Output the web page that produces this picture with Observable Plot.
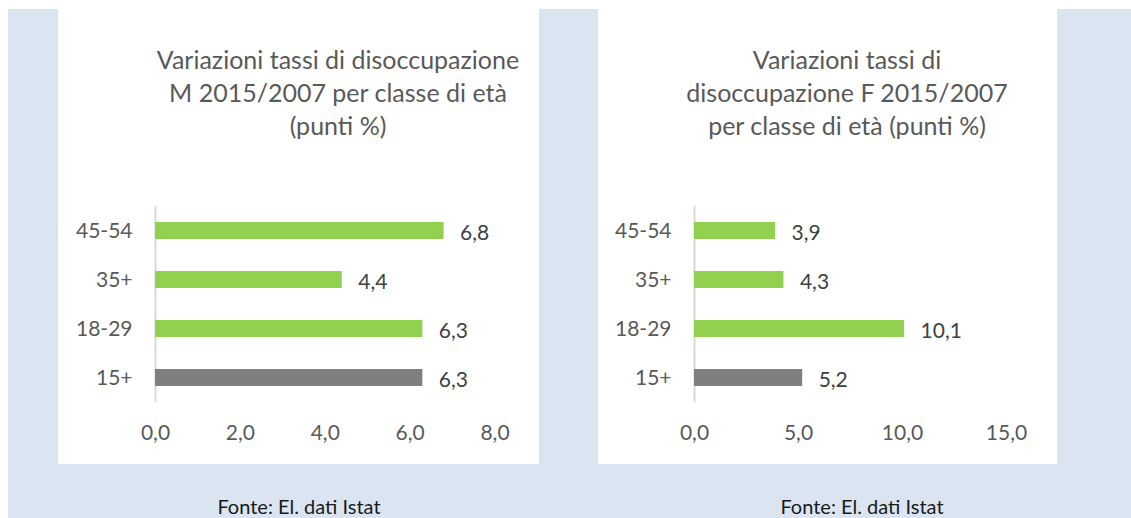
<!DOCTYPE html>
<html>
<head>
<meta charset="utf-8">
<script src="https://cdn.jsdelivr.net/npm/d3@7"></script>
<script src="https://cdn.jsdelivr.net/npm/@observablehq/plot@0.6"></script>
<style>
  html, body { margin: 0; padding: 0; }
  body { width: 1131px; height: 518px; overflow: hidden; background: #ffffff; position: relative; font-family: Lato, "Open Sans", sans-serif; }
  #bg { position: absolute; left: 8px; top: 9px; width: 1123px; height: 509px; background: #dbe5f1; }
  .panel { position: absolute; top: 9px; height: 455px; background: #ffffff; }
  .title { position: absolute; top: 43px; width: 440px; text-align: center; color: #595959; font-size: 25px; line-height: 33px; white-space: nowrap; }
  .chart { position: absolute; top: 172px; }
  .foot { position: absolute; top: 496px; width: 300px; text-align: center; color: #1a1a1a; font-size: 20px; line-height: 21px; white-space: nowrap; }
</style>
</head>
<body>
<div id="bg"></div>
<div class="panel" id="panelM" style="left:58px;width:481px;"></div>
<div class="panel" id="panelF" style="left:598px;width:459px;"></div>
<div class="title" style="left:118px;">Variazioni tassi di disoccupazione<br>M 2015/2007 per classe di età<br>(punti %)</div>
<div class="title" style="left:627px;">Variazioni tassi di<br>disoccupazione F 2015/2007<br>per classe di età (punti %)</div>
<div class="chart" id="chartM" style="left:58px;"></div>
<div class="chart" id="chartF" style="left:598px;"></div>
<div class="foot" style="left:149px;">Fonte: El. dati Istat</div>
<div class="foot" style="left:712px;">Fonte: El. dati Istat</div>
<script>
// Data
const categories = ["45-54", "35+", "18-29", "15+"];
const groups = ["classe", "classe", "classe", "totale"];
const valuesM = [6.8, 4.4, 6.3, 6.3];
const valuesF = [3.9, 4.3, 10.1, 5.2];
const ticksM = [0, 2, 4, 6, 8];
const ticksF = [0, 5, 10, 15];

const fmt = d => d.toFixed(1).replace(".", ",");

function makeChart(values, ticks, width, marginLeft, marginRight) {
  const data = categories.map((c, i) => ({cat: c, value: values[i], group: groups[i]}));
  return Plot.plot({
    width: width,
    height: 292,
    marginTop: 34,
    marginBottom: 62,
    marginLeft: marginLeft,
    marginRight: marginRight,
    style: {fontFamily: "Lato, 'Open Sans', sans-serif", fontSize: "21px", color: "#595959", background: "transparent", overflow: "visible"},
    x: {domain: [ticks[0], ticks[ticks.length - 1]]},
    y: {domain: categories, paddingInner: 0.65, paddingOuter: 0.325},
    color: {domain: ["classe", "totale"], range: ["#92d050", "#7f7f7f"]},
    marks: [
      Plot.ruleX([0], {stroke: "#d9d9d9", strokeWidth: 2}),
      Plot.barX(data, {x: "value", y: "cat", fill: "group"}),
      Plot.text(data, {x: "value", y: "cat", text: d => fmt(d.value), textAnchor: "start", dx: 16, dy: 2, fill: "#404040"}),
      Plot.axisY({tickSize: 0, tickPadding: 23, label: null}),
      Plot.axisX({ticks: ticks, tickSize: 0, tickPadding: 23, tickFormat: fmt, label: null})
    ]
  });
}

document.getElementById("chartM").append(makeChart(valuesM, ticksM, 481, 97, 44.5));
document.getElementById("chartF").append(makeChart(valuesF, ticksF, 459, 96, 51));
</script>
</body>
</html>
